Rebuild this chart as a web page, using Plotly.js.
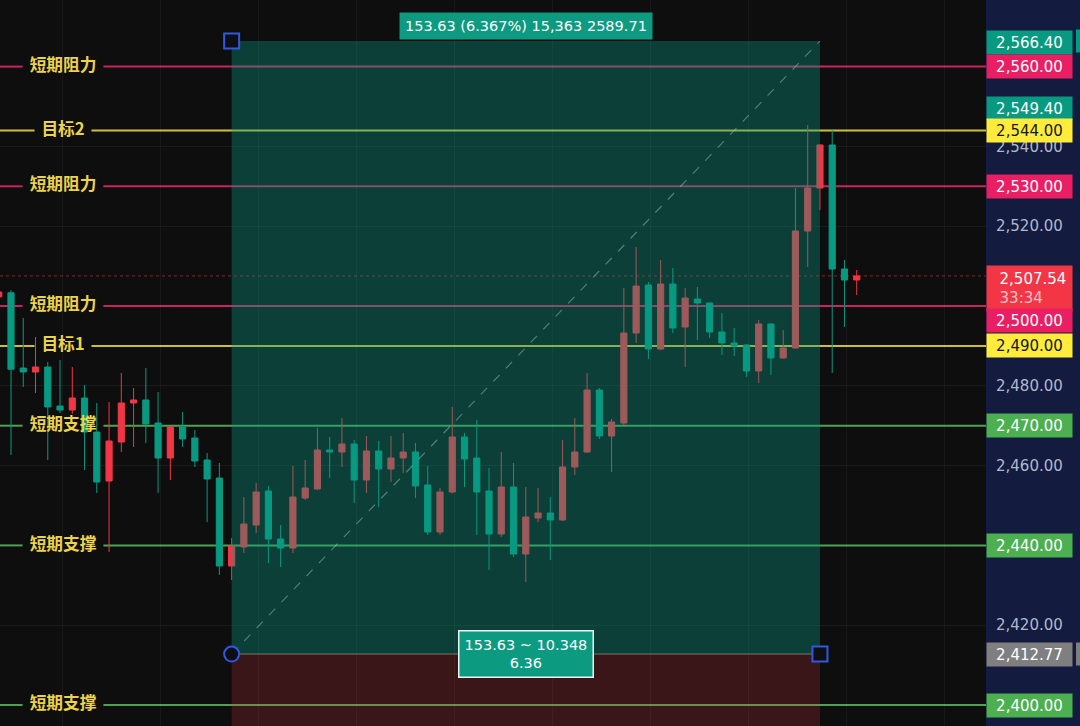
<!DOCTYPE html>
<html><head><meta charset="utf-8">
<script src="https://cdn.plot.ly/plotly-3.0.1.min.js"></script>
<style>html,body{margin:0;padding:0;background:#0e0e0e;overflow:hidden}#chart{width:1080px;height:726px}</style>
</head><body><div id="chart"></div><script>
// ---- candle data (bar index 0..70) ----
const bars = Array.from({length:71},(_,i)=>i);
const open  = [2502.30,2503.33,2484.46,2483.46,2484.71,2474.94,2473.93,2476.94,2468.42,2456.14,2465.91,2475.69,2476.44,2470.68,2461.90,2469.67,2466.92,2461.40,2456.89,2434.84,2439.60,2445.11,2453.63,2441.60,2439.35,2451.88,2454.14,2463.91,2463.41,2465.41,2456.39,2463.66,2459.15,2461.90,2463.41,2455.14,2443.36,2453.38,2467.17,2461.90,2453.63,2442.86,2454.64,2437.84,2446.87,2448.12,2446.37,2459.65,2463.41,2478.95,2467.42,2470.68,2493.23,2505.26,2489.22,2505.51,2494.74,2501.75,2500.75,2493.48,2490.73,2490.23,2483.71,2495.49,2486.97,2489.47,2518.80,2529.57,2540.35,2509.27,2506.52];
const high  = [2504.00,2504.00,2496.99,2492.23,2485.96,2486.47,2484.71,2480.20,2475.69,2475.94,2483.21,2479.45,2484.46,2478.45,2469.90,2473.43,2468.92,2463.16,2460.65,2441.85,2452.13,2455.64,2454.89,2445.11,2459.90,2461.40,2469.42,2467.17,2471.93,2466.42,2467.42,2466.17,2467.42,2468.17,2465.66,2459.90,2454.40,2474.69,2468.17,2471.43,2459.40,2463.41,2460.65,2454.64,2454.39,2452.13,2466.42,2471.93,2483.21,2479.45,2471.68,2504.51,2514.79,2506.02,2511.53,2509.52,2504.51,2504.76,2500.90,2498.25,2494.49,2490.40,2496.49,2495.70,2493.98,2529.57,2545.36,2540.50,2544.11,2511.53,2509.02];
const low   = [2501.80,2462.66,2479.70,2478.20,2461.40,2473.18,2473.00,2458.90,2453.13,2438.35,2463.41,2464.66,2465.66,2453.13,2456.39,2464.66,2459.65,2445.86,2432.58,2431.33,2438.10,2443.11,2435.59,2434.59,2438.10,2451.38,2453.90,2456.89,2459.65,2450.63,2453.13,2449.62,2455.89,2458.15,2451.88,2442.60,2442.61,2453.00,2454.64,2442.61,2433.83,2442.11,2437.09,2430.83,2445.86,2436.34,2446.10,2457.64,2463.20,2466.67,2458.40,2469.67,2490.73,2486.72,2489.00,2493.23,2484.71,2491.48,2491.98,2487.72,2487.47,2482.21,2480.70,2482.71,2486.80,2489.30,2509.77,2524.06,2483.21,2494.74,2502.76];
const close = [2503.50,2484.14,2483.46,2484.71,2474.69,2473.93,2476.94,2468.42,2455.89,2466.17,2475.69,2476.44,2470.43,2461.90,2469.67,2466.67,2461.15,2456.64,2434.84,2439.85,2445.36,2453.38,2441.60,2439.35,2452.13,2454.39,2463.91,2463.41,2465.41,2456.39,2463.66,2459.15,2461.90,2463.41,2454.89,2443.36,2453.38,2467.17,2461.65,2453.38,2442.86,2454.64,2437.84,2447.12,2448.12,2446.37,2459.65,2463.41,2478.95,2467.42,2470.93,2493.23,2505.01,2489.22,2505.51,2494.49,2502.01,2500.75,2493.48,2490.73,2489.97,2483.71,2495.49,2486.97,2489.47,2518.80,2529.57,2540.35,2509.27,2506.52,2507.54];

// ---- horizontal levels ----
const levelVals = [2560, 2544, 2530, 2500, 2490, 2470, 2440, 2400];
const levelText = ['短期阻力','目标2','短期阻力','短期阻力','目标1','短期支撑','短期支撑','短期支撑'];
const levelKind = ['res','tgt','res','res','tgt','sup','sup','sup'];

// ---- long position tool ----
const posStartBar = 19, posEndBar = 67;
const posEntry = 2412.77, posTarget = 2566.40;
const posTopText = '153.63 (6.367%) 15,363 2589.71';
const posMidText = ['153.63 ~ 10.348', '6.36'];

// ---- price axis ----
const yTickVals = [2420, 2460, 2480, 2520, 2540];
const tagVals = [2566.40, 2560.00, 2549.40, 2544.00, 2530.00, 2507.54, 2500.00, 2490.00, 2470.00, 2440.00, 2412.77, 2400.00];
const tagKind = ['pos','res','pos','tgt','res','last','res','tgt','sup','sup','entry','sup'];
const countdownText = '33:34';

// ---- styling ----
const UP = '#f23645', DOWN = '#089981';
const kindLine = {res:'#c8255e', tgt:'#cdbf3c', sup:'#4ca450'};
const tagBgMap = {pos:'#089981', res:'#e91e63', tgt:'#ffeb3b', sup:'#4caf50', last:'#f23645', entry:'#7f7f7f'};
const tagFgMap = {pos:'#ffffff', res:'#ffffff', tgt:'#131722', sup:'#ffffff', last:'#ffffff', entry:'#ffffff'};
const tagShiftMap = {2566.4:-1, 2500:-14};

const W = 1080, H = 726, R = 94, PW = W - R;
const pxPerBar = 12.257, firstBarPx = 11;
const xr0 = 1 - firstBarPx / pxPerBar, xr1 = xr0 + PW / pxPerBar;
const pxPerPt = 3.99;
const yr1 = 2400 + 705 / pxPerPt, yr0 = 2400 - (H - 705) / pxPerPt;
const fmt = v => v.toLocaleString('en-US', {minimumFractionDigits:2, maximumFractionDigits:2});
const labelCenterPx = 63;
const labelX = xr0 + labelCenterPx / pxPerBar;
const textW = s => [...s].reduce((w,ch)=>w + (/[\u4e00-\u9fff]/.test(ch) ? 16.7 : 9.5), 0);
const yPaper = v => (v - yr0) / (yr1 - yr0);

const traces = [
  {type:'scatter', mode:'text', x:levelVals.map(()=>labelX), y:levelVals, text:levelText,
   textposition:'middle center', hoverinfo:'none',
   textfont:{family:'Noto Sans CJK SC', size:16.7, color:'#ecd44a', weight:'bold'}},
  {type:'candlestick', x:bars, open, high, low, close, hoverinfo:'none',
   increasing:{line:{color:UP, width:1}, fillcolor:UP},
   decreasing:{line:{color:DOWN, width:1}, fillcolor:DOWN}}
];

const shapes = [];
levelVals.forEach((v,i)=>{
  const w = textW(levelText[i]);
  const gl = (labelCenterPx - w/2 - 7) / PW, gr = (labelCenterPx + w/2 + 7) / PW;
  const c = kindLine[levelKind[i]];
  shapes.push({type:'line', layer:'below', xref:'paper', yref:'y', x0:0, x1:gl, y0:v, y1:v, line:{color:c, width:2}});
  shapes.push({type:'line', layer:'below', xref:'paper', yref:'y', x0:gr, x1:1, y0:v, y1:v, line:{color:c, width:2}});
});
shapes.push({type:'line', layer:'below', xref:'paper', yref:'y', x0:0, x1:1, y0:close[close.length-1], y1:close[close.length-1], line:{color:'rgba(242,54,69,0.55)', width:1, dash:'dot'}});
shapes.push({type:'rect', layer:'above', xref:'x', yref:'y', x0:posStartBar, x1:posEndBar, y0:posEntry, y1:posTarget, fillcolor:'rgba(8,153,129,0.36)', line:{width:0}});
shapes.push({type:'rect', layer:'above', xref:'x', yref:'y', x0:posStartBar, x1:posEndBar, y0:yr0 - 20, y1:posEntry, fillcolor:'rgba(242,54,69,0.2)', line:{width:0}});
shapes.push({type:'line', layer:'above', xref:'x', yref:'y', x0:posStartBar, x1:posEndBar, y0:posEntry, y1:posEntry, line:{color:'rgba(190,180,150,0.55)', width:1}});
shapes.push({type:'line', layer:'above', xref:'x', yref:'y', x0:posStartBar, x1:posEndBar, y0:posEntry, y1:posTarget, line:{color:'rgba(170,205,195,0.45)', width:1.2, dash:'dash'}});
const handle = (bx, py, kind) => ({type:kind, layer:'above', xref:'x', yref:'y', xsizemode:'pixel', ysizemode:'pixel',
  xanchor:bx, yanchor:py, x0:-7.5, x1:7.5, y0:-7.5, y1:7.5, fillcolor:'#0e0e14', line:{color:'#2f5ae0', width:2}});
shapes.push(handle(posStartBar, posTarget, 'rect'));
shapes.push(handle(posStartBar, posEntry, 'circle'));
shapes.push(handle(posEndBar, posEntry, 'rect'));
[[posTarget,'#089981'],[posEntry,'#7f7f7f']].forEach(([v,c])=>{
  shapes.push({type:'rect', xref:'paper', yref:'paper', x0:1076/PW, x1:1.2, y0:yPaper(v) - 11.5/H, y1:yPaper(v) + 11.5/H, fillcolor:c, line:{width:0}});
});

const annotations = [];
tagVals.forEach((v,i)=>{
  const k = tagKind[i];
  const a = {xref:'paper', yref:'y', x:1, xanchor:'left', y:v, yanchor:'middle', showarrow:false,
    bgcolor:tagBgMap[k], width:79, height:17, borderpad:3, align:'center',
    font:{family:'DejaVu Sans', size:15, color:tagFgMap[k]}, text:fmt(v), yshift:tagShiftMap[v] || 0};
  if (k === 'last') {
    a.text = '\u00a0\u00a0' + fmt(v) + '<br>\u00a0\u00a0<span style="color:#ffc0c4">' + countdownText + '</span>';
    a.height = 39; a.yanchor = 'top'; a.yshift = 11; a.align = 'left';
  }
  annotations.push(a);
});
annotations.push({xref:'x', yref:'y', x:(posStartBar+posEndBar)/2, y:posTarget, yanchor:'bottom', yshift:1, showarrow:false,
  text:posTopText, bgcolor:'#0c9a80', borderpad:5, font:{family:'DejaVu Sans', size:14.5, color:'#ffffff'}});
annotations.push({xref:'x', yref:'y', x:(posStartBar+posEndBar)/2, y:posEntry, yanchor:'middle', showarrow:false,
  text:posMidText.join('<br>'), bgcolor:'#0c9a80', bordercolor:'#e8f5f1', borderwidth:1.5, borderpad:5,
  font:{family:'DejaVu Sans', size:14.5, color:'#ffffff'}});

const layout = {
  width:W, height:H, margin:{l:0, r:R, t:0, b:0, pad:0},
  paper_bgcolor:'#131b3e', plot_bgcolor:'#0e0e0e', showlegend:false, boxgap:0.28,
  xaxis:{range:[xr0, xr1], rangeslider:{visible:false}, showticklabels:false, showgrid:true,
    gridcolor:'rgba(255,255,255,0.045)', tick0:5.2, dtick:8, zeroline:false, showline:false, ticks:'', fixedrange:true},
  yaxis:{range:[yr0, yr1], side:'right', tickvals:yTickVals, ticktext:yTickVals.map(fmt), ticks:'',
    tickfont:{family:'DejaVu Sans', size:15, color:'#b2b8cc'}, ticklabelstandoff:9,
    showgrid:true, gridcolor:'rgba(255,255,255,0.05)', zeroline:false, showline:false, fixedrange:true},
  shapes, annotations, hovermode:false
};
Plotly.newPlot('chart', traces, layout, {displayModeBar:false, staticPlot:true});
</script></body></html>
